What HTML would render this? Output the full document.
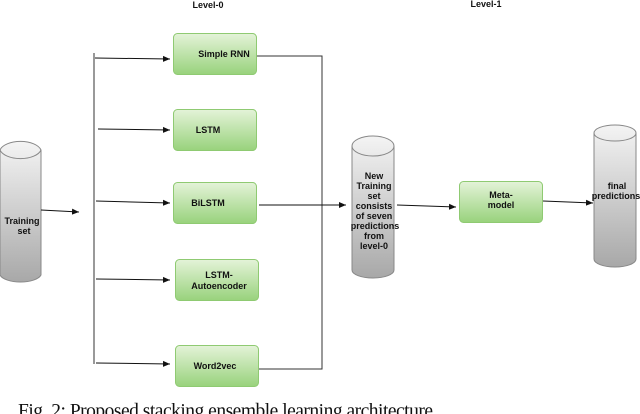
<!DOCTYPE html>
<html><head><style>
html,body{margin:0;padding:0;background:#fff;}
svg{display:block;}
.b{font-family:"Liberation Sans",sans-serif;font-size:9px;font-weight:bold;fill:#111;text-anchor:middle;}
</style></head><body>
<svg width="640" height="414" viewBox="0 0 640 414">
<defs>
<linearGradient id="g" x1="0" y1="0" x2="0" y2="1"><stop offset="0" stop-color="#e4f3d8"/><stop offset="1" stop-color="#98d27c"/></linearGradient>
<linearGradient id="c" x1="0" y1="0" x2="0" y2="1"><stop offset="0" stop-color="#f4f4f4"/><stop offset="1" stop-color="#a8a8a8"/></linearGradient>
<marker id="a" markerWidth="8" markerHeight="8" refX="7" refY="4" orient="auto" markerUnits="userSpaceOnUse"><path d="M0,1 L7,4 L0,7 Z" fill="#111"/></marker>
</defs>
<text x="208" y="8" class="b" font-weight="normal">Level-0</text>
<text x="486" y="7" class="b">Level-1</text>
<!-- training set -->
<path d="M0,150 A21,11 0 0 1 41,150 L41,275 A21,9 0 0 1 0,275 Z" fill="url(#c)" stroke="#888"/>
<path d="M0,150 A21,11 0 0 0 41,150" fill="none" stroke="#888"/>
<text x="22" y="224" class="b">Training</text><text x="24" y="234" class="b">set</text>
<line x1="41" y1="210" x2="79" y2="212" stroke="#111" marker-end="url(#a)"/>
<!-- left bus -->
<line x1="94" y1="53" x2="94" y2="364" stroke="#333"/>
<g stroke="#111" marker-end="url(#a)">
<line x1="95" y1="58" x2="170" y2="59"/>
<line x1="98" y1="129" x2="170" y2="130"/>
<line x1="96" y1="201" x2="170" y2="203"/>
<line x1="96" y1="279" x2="170" y2="280"/>
<line x1="96" y1="363" x2="170" y2="364"/>
</g>
<g fill="url(#g)" stroke="#8fca72">
<rect x="173.5" y="33.5" width="83" height="41" rx="4"/>
<rect x="173.5" y="109.5" width="83" height="41" rx="4"/>
<rect x="173.5" y="182.5" width="83" height="41" rx="4"/>
<rect x="175.5" y="259.5" width="83" height="41" rx="4"/>
<rect x="175.5" y="345.5" width="83" height="41" rx="4"/>
<rect x="459.5" y="181.5" width="83" height="41" rx="4"/>
</g>
<text x="224" y="57" class="b">Simple RNN</text>
<text x="208" y="133" class="b">LSTM</text>
<text x="208" y="206" class="b">BiLSTM</text>
<text x="219" y="278" class="b">LSTM-</text>
<text x="219" y="289" class="b">Autoencoder</text>
<text x="215" y="369" class="b">Word2vec</text>
<!-- right bus -->
<polyline points="257,56 322,56 322,369 259,369" fill="none" stroke="#333"/>
<line x1="259" y1="205" x2="346" y2="205" stroke="#111" marker-end="url(#a)"/>
<!-- new training set -->
<path d="M352,146 A21,10 0 0 1 394,146 L394,270 A21,8 0 0 1 352,270 Z" fill="url(#c)" stroke="#888"/>
<path d="M352,146 A21,10 0 0 0 394,146" fill="none" stroke="#888"/>
<g class="b" font-weight="normal">
<text x="374" y="179" class="b">New</text>
<text x="374" y="189" class="b">Training</text>
<text x="374" y="199" class="b">set</text>
<text x="374" y="209" class="b">consists</text>
<text x="374" y="219" class="b">of seven</text>
<text x="375" y="229" class="b">predictions</text>
<text x="374" y="239" class="b">from</text>
<text x="374" y="249" class="b">level-0</text>
</g>
<line x1="397" y1="205" x2="456" y2="207" stroke="#111" marker-end="url(#a)"/>
<text x="501" y="198" class="b">Meta-</text>
<text x="501" y="208" class="b">model</text>
<line x1="543" y1="201" x2="593" y2="203" stroke="#111" marker-end="url(#a)"/>
<!-- final -->
<path d="M594,133 A21,8 0 0 1 636,133 L636,259 A21,8 0 0 1 594,259 Z" fill="url(#c)" stroke="#888"/>
<path d="M594,133 A21,8 0 0 0 636,133" fill="none" stroke="#888"/>
<text x="617" y="189" class="b">final</text>
<text x="616" y="199" class="b">predictions</text>
<text x="18" y="417" font-family="Liberation Serif,serif" font-size="19.5" fill="#111" textLength="415">Fig. 2: Proposed stacking ensemble learning architecture</text>
</svg>
</body></html>
